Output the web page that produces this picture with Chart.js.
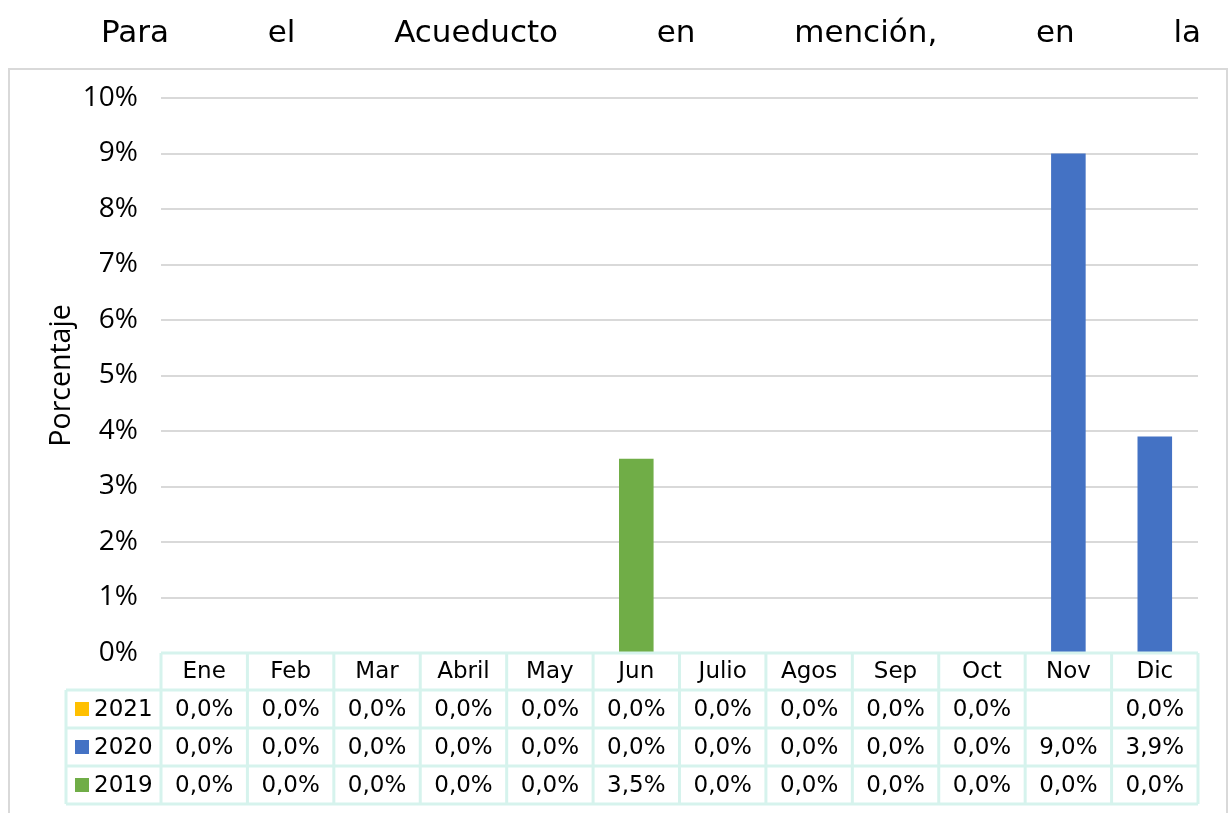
<!DOCTYPE html>
<html>
<head>
<meta charset="utf-8">
<script src="https://cdn.jsdelivr.net/npm/chart.js@4"></script>
<style>
  html, body { margin: 0; padding: 0; background: #fff; }
  #wrap { position: relative; width: 1228px; height: 813px; overflow: hidden; }
  #title {
    position: absolute; left: 101px; width: 1100px; top: 13px;
    font-family: "DejaVu Sans", sans-serif;
    font-size: 31px; line-height: 36px; color: #000;
    white-space: nowrap;
    display: flex; justify-content: space-between; z-index: 2;
  }
  canvas { position: absolute; left: 0; top: 0; }
</style>
</head>
<body>
<div id="wrap">
  <div id="title"><span>Para</span><span>el</span><span>Acueducto</span><span>en</span><span>mención,</span><span>en</span><span>la</span></div>
  <canvas id="c" width="1228" height="813"></canvas>
</div>
<script>
const months = ["Ene","Feb","Mar","Abril","May","Jun","Julio","Agos","Sep","Oct","Nov","Dic"];
const yTicks = [0,1,2,3,4,5,6,7,8,9,10];
const seriesNames = ["2021","2020","2019"];
const seriesColors = ["#FFC000","#4472C4","#70AD47"];
const v2021 = [0,0,0,0,0,0,0,0,0,0,null,0];
const v2020 = [0,0,0,0,0,0,0,0,0,0,9.0,3.9];
const v2019 = [0,0,0,0,0,3.5,0,0,0,0,0,0];
const seriesValues = [v2021, v2020, v2019];

const tableFont = '"DejaVu Sans", sans-serif';
const gridCol = "#d9d9d9";
const tableLine = "#d6f3ed";

function fmt(v) {
  if (v === null || v === undefined) return "";
  return v.toFixed(1).replace(".", ",") + "%";
}

const framePlugin = {
  id: "frame",
  beforeDraw(chart) {
    const ctx = chart.ctx;
    ctx.save();
    ctx.strokeStyle = gridCol;
    ctx.lineWidth = 2;
    ctx.strokeRect(9, 69, 1218, 800);
    ctx.restore();
  }
};

const tablePlugin = {
  id: "dataTable",
  afterDraw(chart) {
    const ctx = chart.ctx;
    const ca = chart.chartArea;
    const n = months.length;
    const colW = (ca.right - ca.left) / n;
    const rowTops = [ca.bottom, 690, 728, 766, 804];
    const legendLeft = 66;
    ctx.save();
    ctx.strokeStyle = tableLine;
    ctx.lineWidth = 3;
    ctx.fillStyle = "#fff";
    ctx.fillRect(ca.left, ca.bottom - 1, ca.right - ca.left, 804 - ca.bottom + 1);
    ctx.fillRect(legendLeft, 690, ca.left - legendLeft, 804 - 690);
    ctx.beginPath();
    ctx.moveTo(ca.left, rowTops[0]); ctx.lineTo(ca.right, rowTops[0]);
    for (let r = 1; r < rowTops.length; r++) {
      ctx.moveTo(legendLeft, rowTops[r]); ctx.lineTo(ca.right, rowTops[r]);
    }
    for (let i = 0; i <= n; i++) {
      const x = ca.left + i * colW;
      ctx.moveTo(x, rowTops[0]); ctx.lineTo(x, rowTops[4]);
    }
    ctx.moveTo(legendLeft, rowTops[1]); ctx.lineTo(legendLeft, rowTops[4]);
    ctx.stroke();

    ctx.fillStyle = "#000";
    ctx.font = "23px " + tableFont;
    ctx.textAlign = "center";
    ctx.textBaseline = "middle";
    for (let i = 0; i < n; i++) {
      const cx = chart.scales.x.getPixelForValue(i);
      ctx.fillText(months[i], cx, (rowTops[0] + rowTops[1]) / 2 + 1);
      for (let s = 0; s < seriesValues.length; s++) {
        ctx.fillText(fmt(seriesValues[s][i]), cx, (rowTops[s + 1] + rowTops[s + 2]) / 2 + 1);
      }
    }
    ctx.textAlign = "left";
    for (let s = 0; s < seriesNames.length; s++) {
      const cy = (rowTops[s + 1] + rowTops[s + 2]) / 2;
      ctx.fillStyle = seriesColors[s];
      ctx.fillRect(75, cy - 7, 14, 14);
      ctx.fillStyle = "#000";
      ctx.fillText(seriesNames[s], 94, cy + 1);
    }
    ctx.restore();
  }
};

new Chart(document.getElementById("c"), {
  type: "bar",
  data: {
    labels: months,
    datasets: seriesNames.map((name, i) => ({
      label: name,
      data: seriesValues[i],
      backgroundColor: seriesColors[i],
      borderWidth: 0,
      grouped: false,
      barPercentage: 0.4,
      categoryPercentage: 1
    }))
  },
  options: {
    responsive: false,
    animation: false,
    devicePixelRatio: 1,
    layout: { padding: { left: 0, top: 98, right: 30, bottom: 160 } },
    plugins: { legend: { display: false }, tooltip: { enabled: false } },
    scales: {
      x: { display: false },
      y: {
        min: 0, max: 10,
        afterFit(scale) { scale.width = 161; },
        afterBuildTicks(scale) { scale.ticks = yTicks.map(v => ({ value: v })); },
        border: { display: false },
        grid: { color: gridCol, lineWidth: 2, drawTicks: false },
        ticks: {
          padding: 23,
          color: "#000",
          font: { family: "Open Sans", size: 28 },
          callback: v => v + "%"
        },
        title: {
          display: true,
          text: "Porcentaje",
          color: "#000",
          font: { family: "Open Sans", size: 28.5 },
          padding: { top: 45, bottom: 0 }
        }
      }
    }
  },
  plugins: [framePlugin, tablePlugin]
});
</script>
</body>
</html>
